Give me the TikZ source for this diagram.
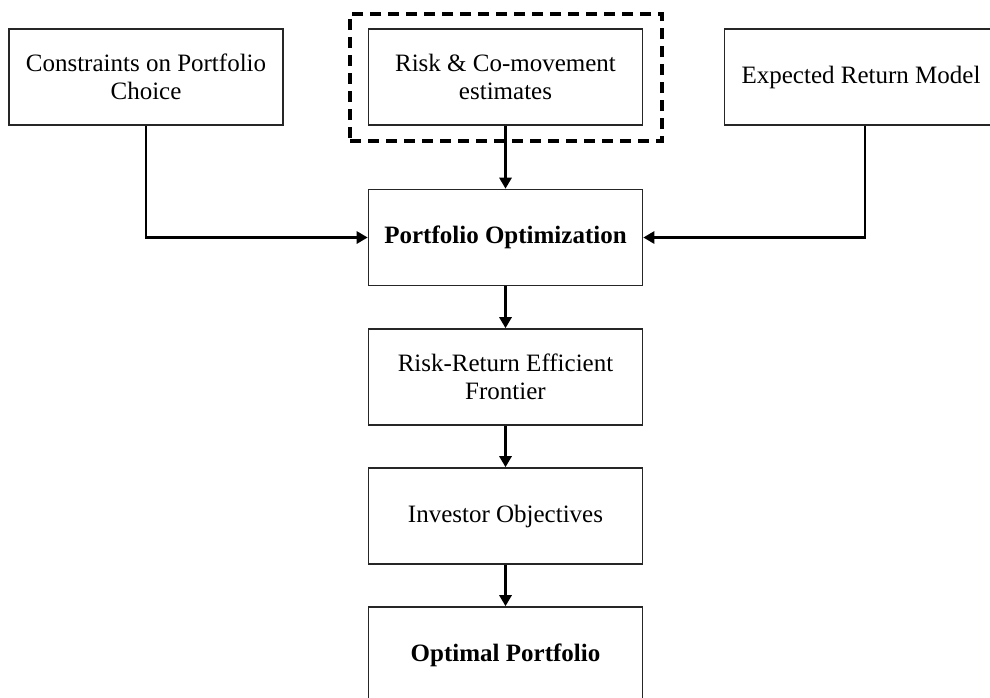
\documentclass[tikz,border=0pt]{standalone}
\usepackage{fontspec}
\setmainfont{Liberation Serif}
\usetikzlibrary{arrows.meta}
\begin{document}
\begin{tikzpicture}[x=1pt,y=-1pt,
  box/.style={draw=black!85, line width=1.6pt, minimum width=274pt, minimum height=96pt,
    inner sep=0pt, align=center, font=\fontsize{25}{27.5}\selectfont},
  conn/.style={line width=2.8pt, -{Triangle[length=11pt,width=12pt]}},
  grp/.style={draw=black, line width=3.2pt, dash pattern=on 11pt off 7pt}]
\useasboundingbox (0,0) rectangle (990,697);
\clip (0,0) rectangle (990,697);
\node[box] (cons) at (146,77) {Constraints on Portfolio\\Choice};
\node[box] (risk) at (505.5,77) {Risk \& Co-movement\\estimates};
\node[box, align=left] (exp) at (865,77) {\hspace*{17pt}Expected Return Model\hspace*{25pt}};
\node[grp, minimum width=312pt, minimum height=127pt, inner sep=0pt] (dash) at (506,77.5) {};
\node[box, font=\fontsize{25}{27.5}\selectfont\bfseries] (po) at (505.5,237.5) {Portfolio Optimization};
\node[box] (rr) at (505.5,377) {Risk-Return Efficient\\Frontier};
\node[box] (inv) at (505.5,516) {Investor Objectives};
\node[box, font=\fontsize{25}{27.5}\selectfont\bfseries] (opt) at (505.5,655) {Optimal Portfolio};
\draw[conn] (cons.south) |- (po.west);
\draw[conn] (exp.south) |- (po.east);
\draw[conn] (risk.south) -- (po.north);
\draw[conn] (po.south) -- (rr.north);
\draw[conn] (rr.south) -- (inv.north);
\draw[conn] (inv.south) -- (opt.north);
\end{tikzpicture}
\end{document}
